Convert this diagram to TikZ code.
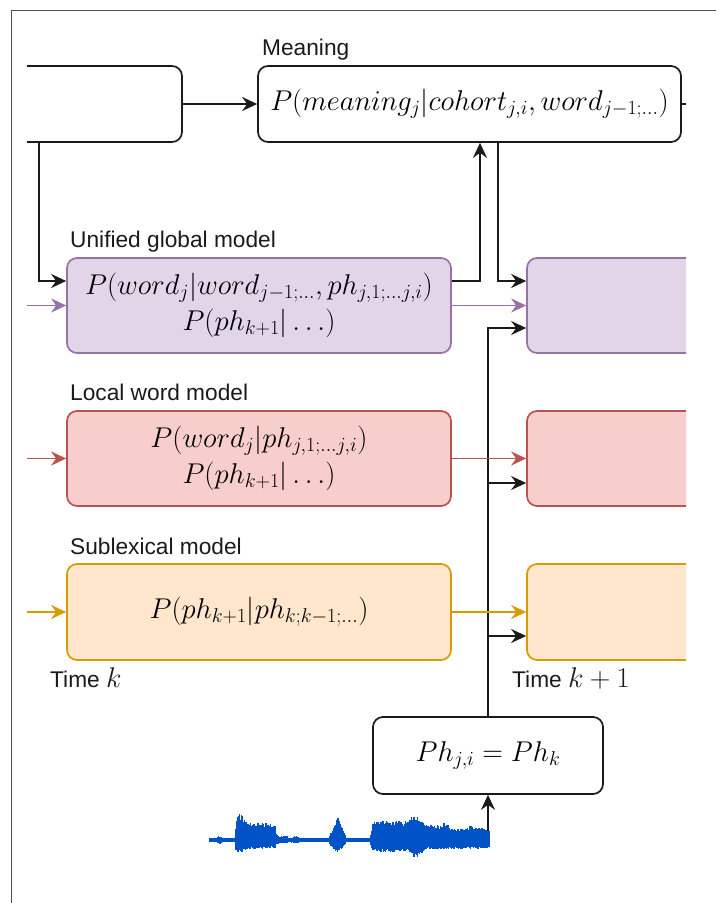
\RequirePackage{fix-cm}
\documentclass[tikz,border=0pt]{standalone}
\usepackage{amsmath}
\usepackage{fontspec}
\newfontfamily\labelfont{Liberation Sans}
\usetikzlibrary{arrows.meta}
\definecolor{purpfill}{HTML}{E1D5E7}
\definecolor{purpline}{HTML}{9673A6}
\definecolor{redfill}{HTML}{F8CECC}
\definecolor{redline}{HTML}{B85450}
\definecolor{orfill}{HTML}{FFE6CC}
\definecolor{orline}{HTML}{D79B00}
\definecolor{ink}{HTML}{1A1A1A}
\definecolor{wavecol}{HTML}{0052C7}
\definecolor{framecol}{HTML}{505050}
\newcommand{\lblmath}[1]{{\fontsize{28.5}{30}\selectfont$#1$}}
\tikzset{
  box/.style={draw=ink, fill=white, rounded corners=10pt, line width=1.7pt, minimum height=76pt, inner sep=0pt},
  ubox/.style={box, draw=purpline, fill=purpfill, minimum height=95pt},
  lbox/.style={box, draw=redline, fill=redfill, minimum height=95pt},
  obox/.style={box, draw=orline, fill=orfill, minimum height=96pt},
  mathtxt/.style={font=\fontsize{28.6}{36}\selectfont, text=black, align=center},
  lbl/.style={font=\labelfont\fontsize{22.7}{27}\selectfont, text=ink, anchor=base west, inner sep=0pt},
  tip/.style={-{Stealth[length=15pt,width=14pt,inset=5pt]}},
  arr/.style={draw=ink, line width=1.8pt, tip},
  parr/.style={draw=purpline, line width=1.9pt, tip},
  rarr/.style={draw=redline, line width=1.9pt, tip},
  oarr/.style={draw=orline, line width=1.9pt, tip},
  wave/.style={draw=wavecol, line width=1.3pt}
}
\begin{document}
\begin{tikzpicture}[x=1pt,y=-1pt]
\useasboundingbox (0,0) rectangle (716,903);
\draw[framecol, line width=1pt] (11,903) -- (11,10) -- (716,10);
\begin{scope}
\clip (27,0) rectangle (686,903);
% boxes
\node[box, minimum width=300pt] (prev) at (32,104) {};
\node[box, minimum width=423pt, mathtxt] (meaning) at (469.5,104) {$P(meaning_j|cohort_{j,i}, word_{j-1;\ldots})$};
\node[ubox, minimum width=384pt, mathtxt] (unified) at (259,305.5) {$P(word_j|word_{j-1;\ldots}, ph_{j,1;\ldots j,i})$\\ $P(ph_{k+1}|\ldots)$};
\node[ubox, minimum width=300pt] (nextU) at (677,305.5) {};
\node[lbox, minimum width=384pt, mathtxt] (local) at (259,458.5) {$P(word_j|ph_{j,1;\ldots j,i})$\\ $P(ph_{k+1}|\ldots)$};
\node[lbox, minimum width=300pt] (nextL) at (677,458.5) {};
\node[obox, minimum width=384pt, mathtxt] (sub) at (259,612) {$P(ph_{k+1}|ph_{k;k-1;\ldots})$};
\node[obox, minimum width=300pt] (nextS) at (677,612) {};
\node[box, minimum width=230pt, minimum height=77pt, mathtxt] (ph) at (488,755.5) {$Ph_{j,i} = Ph_k$};
% labels
\node[lbl] (lmeaning) at (262,55) {Meaning};
\node[lbl] (lunified) at (70,247) {Unified global model};
\node[lbl] (llocal) at (70,400) {Local word model};
\node[lbl] (lsub) at (70,554) {Sublexical model};
\node[lbl] (ltk) at (50,687) {Time \lblmath{k}};
\node[lbl] (ltk1) at (512,687) {Time \lblmath{k+1}};
% free ends
\coordinate (mout) at (700,104);
\coordinate (inU) at (20,305.5);
\coordinate (inL) at (20,458.5);
\coordinate (inS) at (20,612);
\coordinate (wend) at (488,840);
\coordinate (bU) at ([yshift=-22.5pt]nextU.west);
\coordinate (bL) at ([yshift=-24.5pt]nextL.west);
\coordinate (bS) at ([yshift=-24pt]nextS.west);
% connectors
\draw[arr] (prev.east) -- (meaning.west);
\draw[draw=ink, line width=1.8pt] (meaning.east) -- (mout);
\draw[arr] ([xshift=-144pt]prev.south east) |- ([yshift=24.5pt]unified.west);
\draw[arr] ([yshift=24.5pt]unified.east) -| ([xshift=10.5pt]meaning.south);
\draw[arr] ([xshift=28.5pt]meaning.south) |- ([yshift=24.5pt]nextU.west);
\draw[parr] (inU) -- (unified.west);
\draw[parr] (unified.east) -- (nextU.west);
\draw[rarr] (inL) -- (local.west);
\draw[oarr] (inS) -- (sub.west);
\draw[arr] (ph.north) |- (bU);
\draw[arr] (ph.north |- bL) -- (bL);
\draw[arr] (ph.north |- bS) -- (bS);
\draw[rarr] (local.east) -- (nextL.west);
\draw[oarr] (sub.east) -- (nextS.west);
\draw[arr] (wend) -- (ph.south);
% waveform
\pgfmathsetseed{7}
\draw[wavecol, line width=1.8pt] (210,840) -- (wend);
\foreach \xa/\xb/\ua/\ub/\da/\db in {
  210/218/2/2.5/2/2.5, 218/222/4/3.5/4/3.5, 222/236/2.5/2.5/2.5/2.5,
  236/238/12/31/10/13, 238/246/29/22/13/11, 246/262/19/17/10/9,
  262/276/18/16/9/8, 276/280/7/3.5/5/3.5, 280/288/4/4.5/3.5/3.5,
  288/294/2.5/2.5/2.5/2.5, 294/299/4/3.5/3.5/3.5, 299/330/2.5/2.5/2.5/2.5,
  330/338/5/24/5/13, 338/346/24/3.5/13/3.5, 346/371/2.5/2.5/2.5/2.5,
  371/373/6/20/6/12, 373/410/20/19/12/12, 410/418/23/25/15/19,
  418/426/23/17/17/11, 426/444/16/14/10/9, 444/450/17/15/10/9,
  450/470/12/12/9/9, 470/478/15/12/9/9, 478/490/13/11/9/8}{
  \pgfmathsetmacro\xc{\xa+0.8}
  \foreach \x in {\xa,\xc,...,\xb}{
    \pgfmathsetmacro\tq{(\x-\xa)/(\xb-\xa)}
    \pgfmathsetmacro\uu{(\ua+(\ub-\ua)*\tq)*(0.75+0.25*rnd)}
    \pgfmathsetmacro\dd{(\da+(\db-\da)*\tq)*(0.75+0.25*rnd)}
    \draw[wave] (\x,{840-\uu}) -- (\x,{840+\dd});
  }
}
\end{scope}
\end{tikzpicture}
\end{document}
